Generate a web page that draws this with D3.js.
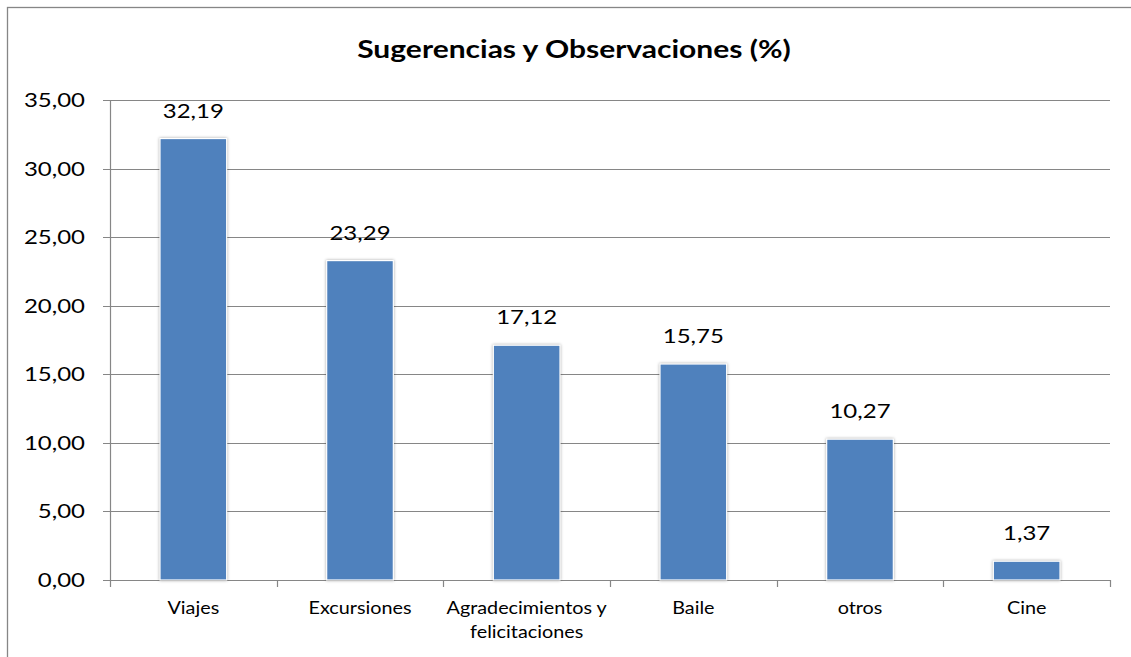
<!DOCTYPE html>
<meta charset="utf-8">
<style>
  body { margin: 0; background: #fff; }
  text { font-family: Lato, "Open Sans", sans-serif; fill: #000; }
  .grid line { stroke: #868686; stroke-width: 1.2px; }
</style>
<svg width="1131" height="657"></svg>
<script src="https://cdn.jsdelivr.net/npm/d3@7"></script>
<script>
  var categories = ["Viajes", "Excursiones", "Agradecimientos y felicitaciones", "Baile", "otros", "Cine"];
  var values = [32.19, 23.29, 17.12, 15.75, 10.27, 1.37];
  var yTicks = [0, 5, 10, 15, 20, 25, 30, 35];
  var title = "Sugerencias y Observaciones (%)";

  var svg = d3.select("svg"),
      margin = {top: 100, right: 21, bottom: 77, left: 110},
      width = 1131 - margin.left - margin.right,
      height = 657 - margin.top - margin.bottom;

  // the source font is wider than Lato, so stretch text horizontally
  var sx = 1.2;
  var at = function(px, py) { return "translate(" + px + "," + py + ") scale(" + sx + ",1)"; };
  var fmt = function(v) { return d3.format(".2f")(v).replace(".", ","); };

  // outer chart border
  svg.append("rect")
      .attr("x", 7.5).attr("y", 7.5)
      .attr("width", 1140).attr("height", 660)
      .attr("fill", "none")
      .attr("stroke", "#868686")
      .attr("stroke-width", 1.3);

  svg.append("text")
      .attr("transform", at(574, 58))
      .attr("text-anchor", "middle")
      .style("font-size", "25px")
      .style("font-weight", "bold")
      .text(title);

  var g = svg.append("g").attr("transform", "translate(" + margin.left + "," + margin.top + ")");

  var x = d3.scaleBand().domain(categories).range([0, width]).paddingInner(0.6).paddingOuter(0.3),
      xc = d3.scaleBand().domain(categories).range([0, width]),
      y = d3.scaleLinear().domain([0, 35]).range([height, 0]);

  // gridlines
  g.append("g").attr("class", "grid")
    .selectAll("line")
    .data(yTicks)
    .enter().append("line")
      .attr("x1", -7).attr("x2", width)
      .attr("y1", function(d) { return Math.round(y(d)) + 0.5; })
      .attr("y2", function(d) { return Math.round(y(d)) + 0.5; });

  // y axis line
  g.append("line")
      .attr("x1", 0.5).attr("x2", 0.5)
      .attr("y1", 0).attr("y2", height)
      .attr("stroke", "#868686").attr("stroke-width", 1.2);

  g.selectAll(".ylab")
    .data(yTicks)
    .enter().append("text")
      .attr("class", "ylab")
      .attr("transform", function(d) { return at(-25, y(d)); })
      .attr("dy", "0.35em")
      .attr("text-anchor", "end")
      .style("font-size", "20px")
      .text(fmt);

  // category ticks
  var tickPos = categories.map(function(c) { return xc(c); }).concat([width]);
  g.selectAll(".xtick")
    .data(tickPos)
    .enter().append("line")
      .attr("x1", function(d) { return Math.round(d) + 0.5; })
      .attr("x2", function(d) { return Math.round(d) + 0.5; })
      .attr("y1", height).attr("y2", height + 7)
      .attr("stroke", "#868686").attr("stroke-width", 1.2);

  // bars
  g.selectAll(".bar")
    .data(values)
    .enter().append("rect")
      .attr("class", "bar")
      .attr("x", function(d, i) { return x(categories[i]); })
      .attr("y", function(d) { return y(d); })
      .attr("width", x.bandwidth())
      .attr("height", function(d) { return height - y(d); })
      .attr("fill", "#4F81BD")
      .attr("stroke", "#fff")
      .attr("stroke-width", 1.2)
      .style("filter", "drop-shadow(0px 0px 1.5px rgba(0,0,0,0.35))");

  g.selectAll(".vlab")
    .data(values)
    .enter().append("text")
      .attr("class", "vlab")
      .attr("transform", function(d, i) { return at(xc(categories[i]) + xc.bandwidth() / 2, y(d) - 21); })
      .attr("text-anchor", "middle")
      .style("font-size", "20px")
      .text(fmt);

  // category labels (wrap long one)
  var lines = function(c) { return c === "Agradecimientos y felicitaciones" ? ["Agradecimientos y", "felicitaciones"] : [c]; };
  var cl = g.selectAll(".xlab")
    .data(categories)
    .enter().append("text")
      .attr("class", "xlab")
      .attr("text-anchor", "middle")
      .style("font-size", "16.5px")
      .attr("transform", function(c) { return at(xc(c) + xc.bandwidth() / 2, height + 34); });
  cl.selectAll("tspan")
    .data(lines)
    .enter().append("tspan")
      .attr("x", 0)
      .attr("dy", function(d, i) { return i ? 24 : 0; })
      .text(function(d) { return d; });
</script>
